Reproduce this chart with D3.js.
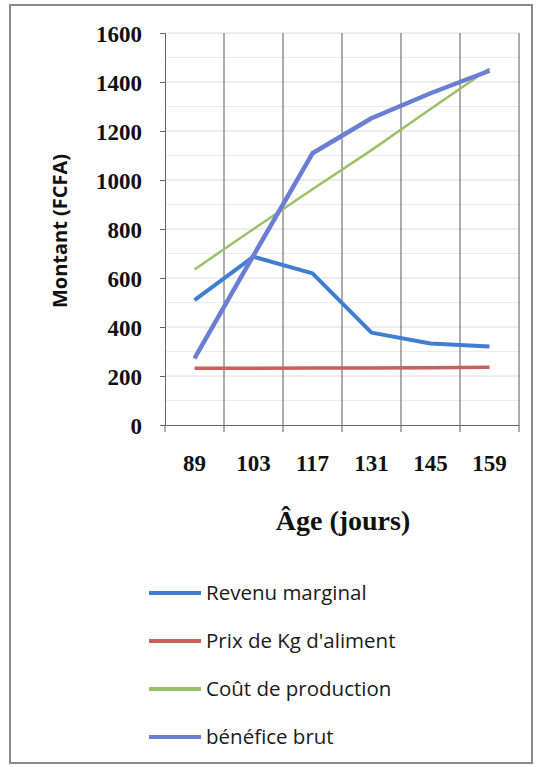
<!DOCTYPE html>
<html><head><meta charset="utf-8">
<script src="https://cdn.jsdelivr.net/npm/d3@7"></script>
<style>body{margin:0;background:#fff;} svg{display:block;}</style>
</head><body>
<svg id="c" width="538" height="767"></svg>
<script>
const ages = ["89","103","117","131","145","159"];
const revenuMarginal = [510, 687, 619, 377, 333, 320];
const prixKgAliment = [232, 232, 233, 233, 234, 236];
const coutProduction = [635, 800, 962, 1122, 1290, 1455];
const beneficeBrut = [272, 692, 1109, 1252, 1354, 1446];
const yTicks = [0, 200, 400, 600, 800, 1000, 1200, 1400, 1600];
const seriesNames = ["Revenu marginal", "Prix de Kg d'aliment", "Coût de production", "bénéfice brut"];
const seriesColors = ["#3f7ed0", "#c8605c", "#9cc06a", "#6a7ed4"];
const seriesWidths = [4, 3.5, 2.5, 4.5];
const seriesData = [revenuMarginal, prixKgAliment, coutProduction, beneficeBrut];

const svg = d3.select("#c");
const L = 165, R = 519, T = 33, B = 425;

// outer frame
svg.append("rect").attr("x", 10).attr("y", 5).attr("width", 522).attr("height", 758)
  .attr("fill", "#fff").attr("stroke", "#8a8a8a").attr("stroke-width", 2);

const x = d3.scaleBand().domain(ages).range([L, R]).padding(0);
const y = d3.scaleLinear().domain([0, 1600]).range([B, T]);

// minor horizontal gridlines
const minor = d3.range(100, 1600, 200);
svg.append("g").selectAll("line").data(minor).join("line")
  .attr("x1", L).attr("x2", R).attr("y1", d => y(d)).attr("y2", d => y(d))
  .attr("stroke", "#ececec").attr("stroke-width", 1);
svg.append("g").selectAll("line").data(yTicks.filter(d => d > 0)).join("line")
  .attr("x1", L).attr("x2", R).attr("y1", d => y(d)).attr("y2", d => y(d))
  .attr("stroke", "#dcdcdc").attr("stroke-width", 1);

// vertical gridlines at category boundaries
const bounds = ages.map(a => x(a) + x.bandwidth());
svg.append("g").selectAll("line").data(bounds).join("line")
  .attr("x1", d => d).attr("x2", d => d).attr("y1", T).attr("y2", B + 7)
  .attr("stroke", "#5a5a5a").attr("stroke-width", 1);

// y axis
const yAxis = d3.axisLeft(y).tickValues(yTicks).tickSize(5).tickPadding(18).tickFormat(d3.format("d"));
const gy = svg.append("g").attr("transform", `translate(${L},0)`).call(yAxis);
gy.select(".domain").attr("stroke", "#666");
gy.selectAll(".tick line").attr("stroke", "#666");
gy.selectAll("text").attr("font-family", "'Liberation Serif', 'Times New Roman', serif")
  .attr("font-weight", "bold").attr("font-size", 23).attr("fill", "#111").attr("dy", "0.38em");

// x axis
const xAxis = d3.axisBottom(x).tickSize(0).tickPadding(30);
const gx = svg.append("g").attr("transform", `translate(0,${B})`).call(xAxis);
gx.select(".domain").attr("stroke", "#666");
gx.selectAll("text").attr("font-family", "'Liberation Serif', 'Times New Roman', serif")
  .attr("font-weight", "bold").attr("font-size", 23).attr("fill", "#111");
svg.append("line").attr("x1", L).attr("x2", L).attr("y1", B).attr("y2", B + 7).attr("stroke", "#666");

// lines
const line = d3.line().x((d, i) => x(ages[i]) + x.bandwidth() / 2).y(d => y(d));
seriesData.forEach((s, k) => {
  svg.append("path").datum(s).attr("d", line).attr("fill", "none")
    .attr("stroke", seriesColors[k]).attr("stroke-width", seriesWidths[k])
    .attr("stroke-linejoin", "round").attr("stroke-linecap", "butt");
});

// axis titles
svg.append("text").attr("transform", "translate(60,231) rotate(-90)")
  .attr("text-anchor", "middle").attr("dy", "0.35em").attr("font-family", "'Open Sans', 'Noto Sans', sans-serif")
  .attr("font-weight", "bold").attr("font-size", 20).attr("fill", "#111").text("Montant (FCFA)");
svg.append("text").attr("x", 343).attr("y", 530).attr("text-anchor", "middle")
  .attr("font-family", "'Liberation Serif', 'Times New Roman', serif")
  .attr("font-weight", "bold").attr("font-size", 28).attr("fill", "#111").text("Âge (jours)");

// legend
const lg = svg.append("g");
seriesNames.forEach((n, k) => {
  const cy = 593 + k * 48;
  lg.append("line").attr("x1", 149).attr("x2", 201).attr("y1", cy).attr("y2", cy)
    .attr("stroke", seriesColors[k]).attr("stroke-width", 4);
  lg.append("text").attr("x", 206).attr("y", cy).attr("dy", "0.35em")
    .attr("font-family", "'Open Sans', 'Noto Sans', sans-serif").attr("font-size", 20.5)
    .attr("fill", "#1a1a1a").text(n);
});
</script>
</body></html>
